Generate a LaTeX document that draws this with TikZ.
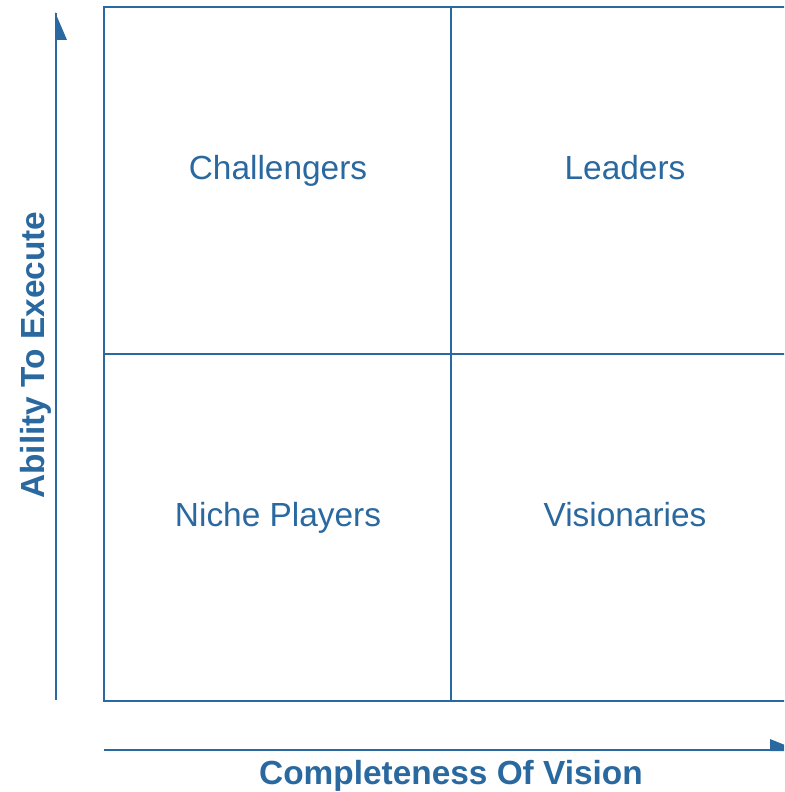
\documentclass[tikz,border=0pt]{standalone}
\usepackage{fontspec}
\setmainfont{Liberation Sans}
\definecolor{gblue}{RGB}{42,104,160}
\begin{document}
\begin{tikzpicture}[x=1pt,y=-1pt,
  gridline/.style={draw=gblue,line width=2pt},
  quadlabel/.style={text=gblue,font=\fontsize{33.4}{36}\selectfont,anchor=base,inner sep=0pt},
  axislabel/.style={text=gblue,font=\fontsize{33.4}{36}\selectfont\bfseries,anchor=base,inner sep=0pt}]
\useasboundingbox (0,0) rectangle (784,792);
\clip (0,0) rectangle (784,792);
% grid
\draw[gridline] (104,7) rectangle (798,701);
\draw[gridline] (451,7) -- (451,701);
\draw[gridline] (104,354) -- (798,354);
% vertical axis arrow
\coordinate (ybot) at (56,700);
\coordinate (ytop) at (56,13);
\draw[gridline] (ybot) -- (ytop);
\fill[gblue] (55,12) -- (55,40) -- (67,40) -- cycle;
% horizontal axis arrow
\coordinate (xl) at (104,750);
\coordinate (xr) at (784,750);
\draw[gridline] (xl) -- (xr);
\fill[gblue] (770,739) -- (770,751) -- (800,751) -- cycle;
% labels
\node[quadlabel] (ch) at (278,179) {Challengers};
\node[quadlabel] (le) at (625,179) {Leaders};
\node[quadlabel] (ni) at (278,526) {Niche Players};
\node[quadlabel] (vi) at (625,526) {Visionaries};
\node[axislabel] (cv) at (451,784) {Completeness Of Vision};
\node[axislabel,rotate=90] (ae) at (44,355) {Ability To Execute};
\end{tikzpicture}
\end{document}
